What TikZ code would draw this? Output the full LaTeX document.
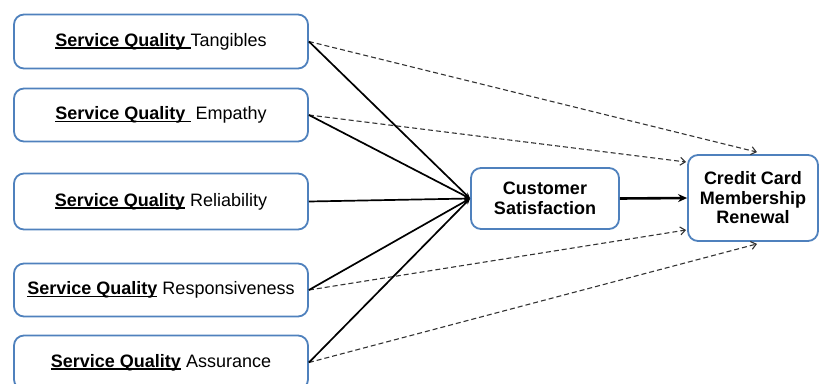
\documentclass[tikz,border=0pt]{standalone}
\usepackage{fontspec}
\setmainfont{Liberation Sans}
\usetikzlibrary{arrows.meta}
\newcommand\ulbox[1]{\setbox0\hbox{#1}\rlap{\rule[-2.4pt]{\wd0}{1.1pt}}\box0\relax}
\tikzset{
  sqbox/.style={draw={rgb,255:red,79;green,129;blue,189}, line width=1.8pt, rounded corners=10pt, fill=white,
    minimum width=294pt, inner sep=0pt, font=\fontsize{18}{20}\selectfont, text=black},
  outbox/.style={draw={rgb,255:red,79;green,129;blue,189}, line width=1.8pt, rounded corners=10pt, fill=white,
    inner sep=0pt, align=center, font=\fontsize{18}{19.5}\selectfont\bfseries, text=black},
  solidln/.style={line width=1.7pt, -{Stealth[length=6pt,width=5pt]}},
  dashln/.style={line width=1.1pt, draw=black!80, dash pattern=on 5pt off 3pt, -{Straight Barb[length=5pt,width=8pt]}},
  mainln/.style={line width=2.6pt, -{Stealth[length=9pt,width=8pt]}}
}
\begin{document}
\begin{tikzpicture}[x=1pt,y=-1pt]
\useasboundingbox (0,0) rectangle (819,383);
\node[sqbox, minimum height=54pt] (tan) at (161,41.5) {\ulbox{\textbf{Service Quality }}Tangibles};
\node[sqbox, minimum height=53pt] (emp) at (161,115) {\ulbox{\textbf{Service Quality }} Empathy};
\node[sqbox, minimum height=56pt] (rel) at (161,201.5) {\ulbox{\textbf{Service Quality}} Reliability};
\node[sqbox, minimum height=53pt] (res) at (161,290) {\ulbox{\textbf{Service Quality}} Responsiveness};
\node[sqbox, minimum height=54pt] (ass) at (161,362.5) {\ulbox{\textbf{Service Quality}} Assurance};
\node[outbox, minimum width=148pt, minimum height=61pt] (cs) at (545,198.5) {Customer\\Satisfaction};
\node[outbox, minimum width=130pt, minimum height=86pt] (cc) at (753,198) {Credit Card\\Membership\\Renewal};
% dashed direct paths
\draw[dashln] (tan.east) -- ([xshift=4pt,yshift=2pt]cc.north);
\draw[dashln] (emp.east) -- ([xshift=-1pt,yshift=36pt]cc.west);
\draw[dashln] (res.east) -- ([xshift=-1pt,yshift=-32pt]cc.west);
\draw[dashln] (ass.east) -- ([xshift=4pt,yshift=-2pt]cc.south);
% solid paths to satisfaction
\foreach \n in {tan,emp,rel,res,ass}
  \draw[solidln] (\n.east) -- (cs.west);
\draw[mainln] (cs.east) -- (cc.west);
\end{tikzpicture}
\end{document}
